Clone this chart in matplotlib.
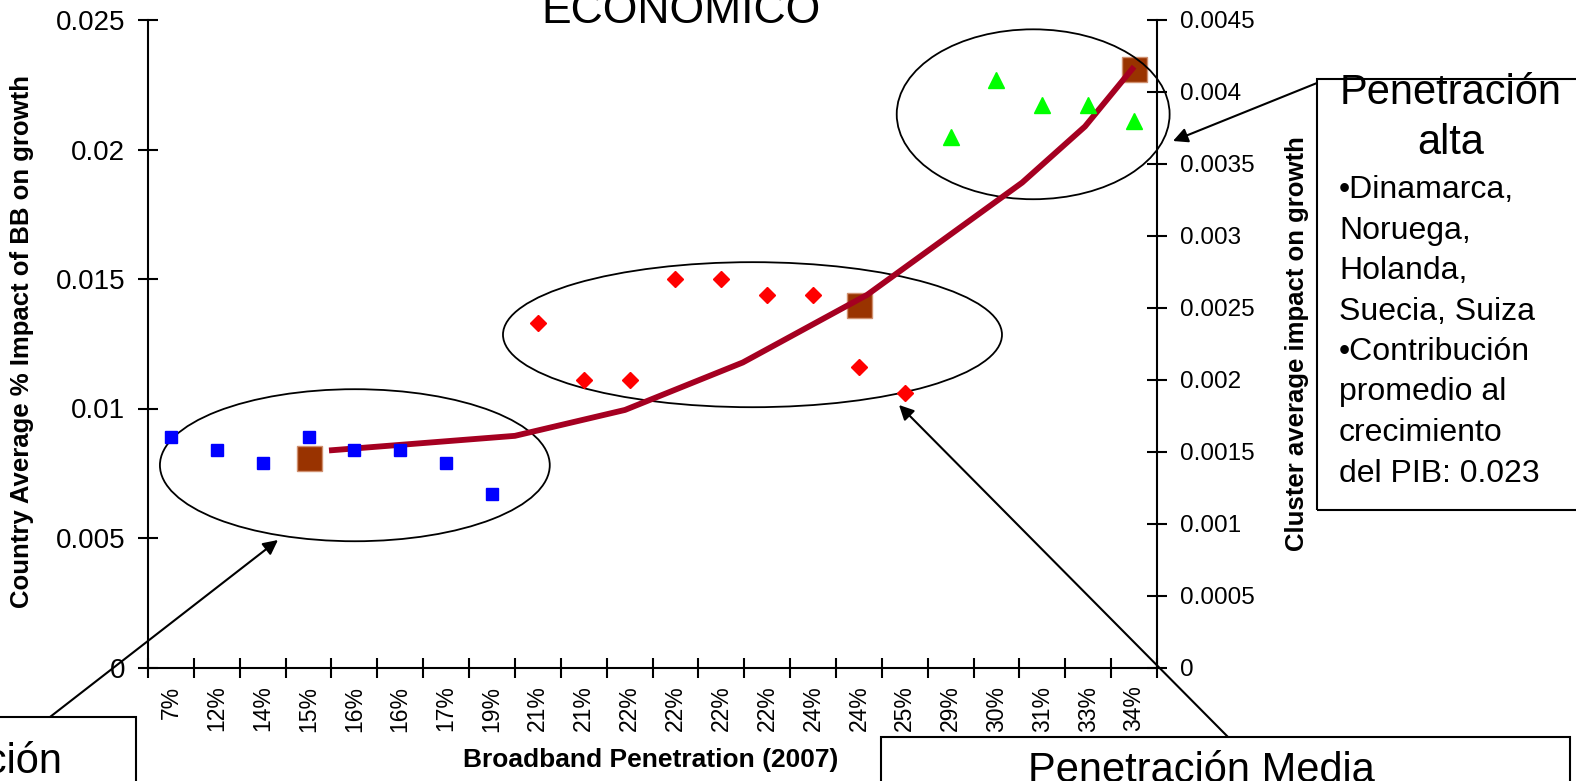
import numpy as np
import matplotlib
import matplotlib.pyplot as plt
from matplotlib.patches import Ellipse, Rectangle
from matplotlib.ticker import FuncFormatter
from matplotlib import font_manager

matplotlib.use("Agg")

plt.rcParams["font.family"] = ["Liberation Sans", "DejaVu Sans"]

# x categories: broadband penetration (2007)
penetration = ["7%", "12%", "14%", "15%", "16%", "16%", "17%", "19%",
               "21%", "21%", "22%", "22%", "22%", "22%", "24%", "24%",
               "25%", "29%", "30%", "31%", "33%", "34%"]

# country average % impact of BB on growth (left axis), per cluster
low_idx = [0, 1, 2, 3, 4, 5, 6, 7]
low_vals = [0.0089, 0.0084, 0.0079, 0.0089, 0.0084, 0.0084, 0.0079, 0.0067]
mid_idx = [8, 9, 10, 11, 12, 13, 14, 15, 16]
mid_vals = [0.0133, 0.0111, 0.0111, 0.0150, 0.0150, 0.0144, 0.0144, 0.0116, 0.0106]
high_idx = [17, 18, 19, 20, 21]
high_vals = [0.0205, 0.0227, 0.0217, 0.0217, 0.0211]

# cluster averages (left axis)
cluster_idx = [3, 15, 21]
cluster_vals = [0.0081, 0.0140, 0.0231]

# cluster average impact curve (right axis), x in category units
curve_x = [4.01, 8.00, 10.40, 12.97, 15.68, 19.06, 20.43, 21.46]
curve_y = [0.00151, 0.00161, 0.00179, 0.00212, 0.00259, 0.00337, 0.00376, 0.00416]

W, H = 1576, 781


def fx(px):
    return px / W


def fy(py):
    return 1 - py / H


fig = plt.figure(figsize=(W / 100, H / 100), dpi=100)
ax = fig.add_axes([fx(148), fy(667.5), (1157 - 148) / W, (667.5 - 20) / H])
ax2 = ax.twinx()

ctr = lambda idx: np.array(idx) + 0.5

# cluster averages under the curve
ax.plot(ctr(cluster_idx), cluster_vals, ls="none", marker="s", ms=18,
        mfc="#993300", mec="#d09070", mew=1, zorder=2)

# curve on the right axis
ax2.plot(curve_x, curve_y, color="#A50021", lw=4.2, solid_joinstyle="miter", zorder=3)

# country points on top (left-axis scale)
ax2.plot(ctr(low_idx), low_vals, ls="none", marker="s", ms=8.8, color="#0000FF",
         transform=ax.transData, zorder=4)
ax2.plot(ctr(mid_idx), mid_vals, ls="none", marker="D", ms=8.5, color="#FF0000",
         transform=ax.transData, zorder=4)
ax2.plot(ctr(high_idx), high_vals, ls="none", marker="^", ms=11, color="#00FF00",
         transform=ax.transData, zorder=4)

# ellipses round the clusters
for (cx, cy, w, h) in [(4.51, 0.00781, 8.50, 0.00587),
                       (13.18, 0.01285, 10.88, 0.0056),
                       (19.30, 0.02136, 5.95, 0.00656)]:
    ax.add_patch(Ellipse((cx, cy), w, h, fill=False, ec="black", lw=1.3,
                         clip_on=False, zorder=5))

# axes
ax.set_xlim(0, 22)
ax.set_ylim(0, 0.025)
ax2.set_ylim(0, 0.0045)
fmt = FuncFormatter(lambda v, p: f"{v:g}")
ax.set_yticks(np.arange(0, 0.0251, 0.005))
ax.yaxis.set_major_formatter(fmt)
ax2.set_yticks(np.arange(0, 0.00451, 0.0005))
ax2.yaxis.set_major_formatter(fmt)

ax.set_xticks(np.arange(0, 23))
ax.set_xticklabels([])
ax.set_xticks(np.arange(22) + 0.5, minor=True)
ax.set_xticklabels(penetration, minor=True, rotation=90, fontsize=16.5)
ax.tick_params(axis="x", which="minor", length=0, pad=13)
ax.tick_params(axis="x", which="major", direction="inout", length=14, width=1.5)
ax.tick_params(axis="y", direction="inout", length=15, width=1.5, labelsize=20, pad=9)
ax2.tick_params(axis="y", direction="inout", length=15, width=1.5, labelsize=17.5, pad=9)

for s in ["top", "right"]:
    ax.spines[s].set_visible(False)
for s in ["top", "left", "bottom"]:
    ax2.spines[s].set_visible(False)
for a in (ax, ax2):
    for s in a.spines.values():
        s.set_linewidth(1.5)

# axis titles
fig.text(fx(22), fy(341), "Country Average % Impact of BB on growth", rotation=90,
         ha="center", va="center", fontsize=18.5, fontweight="bold")
fig.text(fx(651), fy(760), "Broadband Penetration (2007)", ha="center", va="center",
         fontsize=19, fontweight="bold")
names = {f.name for f in font_manager.fontManager.ttflist}
if "Liberation Sans Narrow" in names:
    rfam, rsize = ["Liberation Sans Narrow", "DejaVu Sans"], 22.5
else:
    rfam, rsize = ["Liberation Sans", "DejaVu Sans"], 18.5
fig.text(fx(1297), fy(344), "Cluster average impact on growth", rotation=90,
         ha="center", va="center", fontsize=rsize, fontweight="bold", family=rfam)

fig.text(fx(681), fy(23), "ECONOMICO", ha="center", va="baseline", fontsize=32)

# callout boxes
for (x0, y0, x1, y1) in [(-300, 717, 136, 900), (881, 737, 1570, 900), (1317, 79, 1590, 510)]:
    fig.add_artist(Rectangle((fx(x0), fy(y1)), (x1 - x0) / W, (y1 - y0) / H,
                             transform=fig.transFigure, fill=False, ec="black", lw=1.5))

fig.text(fx(63), fy(773), "Penetración", ha="right", va="baseline", fontsize=30)
fig.text(fx(1201), fy(782), "Penetración Media", ha="center", va="baseline", fontsize=30)
fig.text(fx(1451), fy(104), "Penetración", ha="center", va="baseline", fontsize=30)
fig.text(fx(1451), fy(154), "alta", ha="center", va="baseline", fontsize=30)
alta_lines = ["•Dinamarca,", "Noruega,", "Holanda,", "Suecia, Suiza",
              "•Contribución", "promedio al", "crecimiento", "del PIB: 0.023"]
for i, line in enumerate(alta_lines):
    fig.text(fx(1339), fy(198 + 40.5 * i), line, ha="left", va="baseline", fontsize=23)

# arrows from the boxes to the clusters
for (start, end) in [((50, 717), (278, 540)),
                     ((1228, 737), (899, 405)),
                     ((1317, 83), (1173, 141))]:
    ax.annotate("", xy=(end[0], H - end[1]), xycoords="figure pixels",
                xytext=(start[0], H - start[1]), textcoords="figure pixels",
                arrowprops=dict(arrowstyle="-|>", color="black", lw=1.5,
                                mutation_scale=22, shrinkA=0, shrinkB=0),
                annotation_clip=False)

fig.savefig("out.png", dpi=100)
